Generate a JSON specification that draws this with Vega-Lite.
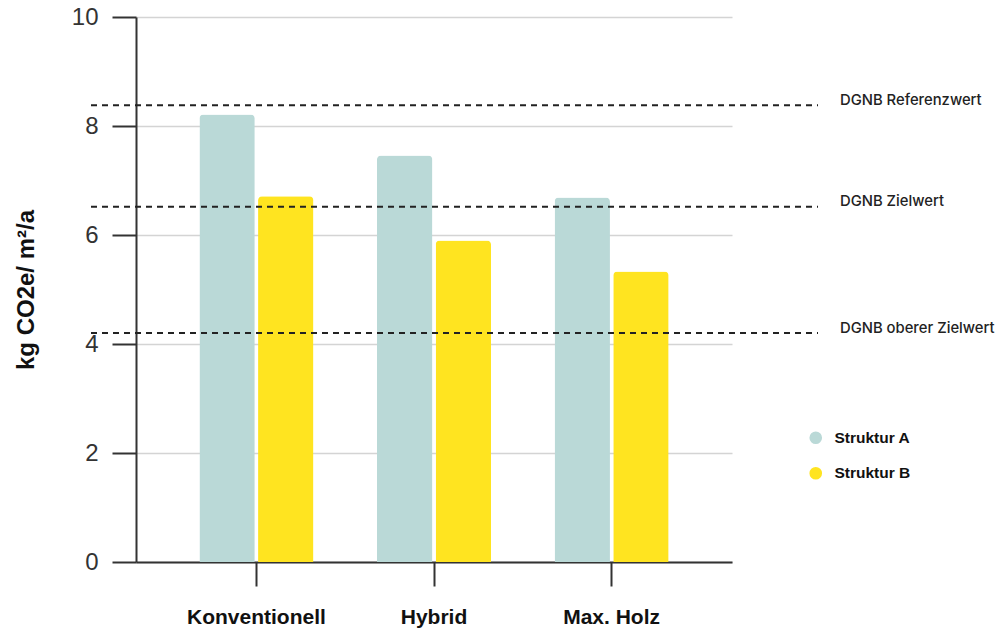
{
  "$schema": "https://vega.github.io/schema/vega-lite/v6.json",
  "width": 596,
  "height": 545,
  "autosize": {"type": "none"},
  "padding": {"left": 136, "top": 17, "right": 270, "bottom": 71},
  "background": "white",
  "config": {"view": {"stroke": null}, "font": "Liberation Sans"},
  "datasets": {
    "bars": [
      {"Variante": "Konventionell", "Struktur": "Struktur A", "Wert": 8.21},
      {"Variante": "Konventionell", "Struktur": "Struktur B", "Wert": 6.71},
      {"Variante": "Hybrid", "Struktur": "Struktur A", "Wert": 7.46},
      {"Variante": "Hybrid", "Struktur": "Struktur B", "Wert": 5.9},
      {"Variante": "Max. Holz", "Struktur": "Struktur A", "Wert": 6.69},
      {"Variante": "Max. Holz", "Struktur": "Struktur B", "Wert": 5.33}
    ],
    "refs": [
      {"Label": "DGNB Referenzwert", "Wert": 8.38},
      {"Label": "DGNB Zielwert", "Wert": 6.52},
      {"Label": "DGNB oberer Zielwert", "Wert": 4.2}
    ]
  },
  "layer": [
    {
      "data": {"name": "bars"},
      "mark": {"type": "bar", "cornerRadiusTopLeft": 4, "cornerRadiusTopRight": 4},
      "encoding": {
        "x": {
          "field": "Variante", "type": "nominal",
          "sort": ["Konventionell", "Hybrid", "Max. Holz"],
          "scale": {"paddingInner": 0.358, "paddingOuter": 0.357},
          "axis": {
            "title": null, "labelAngle": 0, "labelFontSize": 21, "labelFontWeight": "bold",
            "labelColor": "#111", "labelPadding": 20, "tickSize": 24, "tickWidth": 2,
            "tickColor": "#333", "domainColor": "#333", "domainWidth": 2
          }
        },
        "xOffset": {"field": "Struktur", "type": "nominal", "scale": {"paddingInner": 0.056}},
        "y": {
          "field": "Wert", "type": "quantitative",
          "scale": {"domain": [0, 10], "nice": false},
          "axis": {
            "title": "kg CO2e/ m²/a", "titleFontSize": 24, "titleFontWeight": "bold",
            "titleColor": "#111", "titlePadding": 33,
            "values": [0, 2, 4, 6, 8, 10], "labelFontSize": 24, "labelColor": "#333",
            "labelPadding": 14, "tickSize": 24, "tickWidth": 2, "tickColor": "#333",
            "domainColor": "#333", "domainWidth": 2,
            "grid": true, "gridColor": "#d4d4d4", "gridWidth": 1.5
          }
        },
        "color": {
          "field": "Struktur", "type": "nominal",
          "scale": {"range": ["#bad9d7", "#ffe420"]},
          "legend": {
            "title": null, "orient": "none", "legendX": 672, "legendY": 413,
            "symbolType": "circle", "symbolSize": 160, "symbolStrokeWidth": 0,
            "labelFontSize": 15.5, "labelFontWeight": "bold", "labelColor": "#111",
            "labelOffset": 11, "rowPadding": 18.5
          }
        }
      }
    },
    {
      "data": {"name": "refs"},
      "mark": {"type": "rule", "x": -45, "x2": {"expr": "width + 86"}, "strokeDash": [6, 5], "strokeWidth": 2, "color": "#222"},
      "encoding": {"y": {"field": "Wert", "type": "quantitative"}}
    },
    {
      "data": {"name": "refs"},
      "mark": {"type": "text", "x": {"expr": "width + 108"}, "align": "left", "dy": -4.5, "fontSize": 14.8, "font": "Inter", "fontWeight": 500, "color": "#222"},
      "encoding": {
        "y": {"field": "Wert", "type": "quantitative"},
        "text": {"field": "Label"}
      }
    }
  ]
}
